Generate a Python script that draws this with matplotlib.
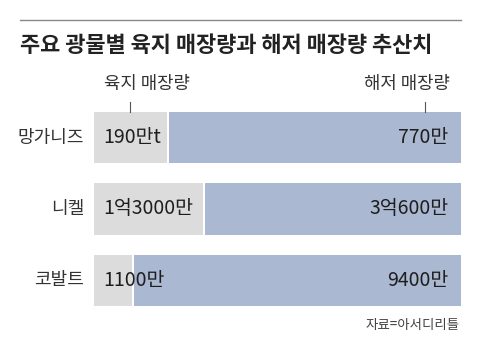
import numpy as np
import matplotlib
matplotlib.use('Agg')
from matplotlib import pyplot as plt
from matplotlib.lines import Line2D

plt.rcParams['font.family'] = ['Noto Sans CJK KR', 'DejaVu Sans']

# data (unit: 만 t)
minerals = ['망가니즈', '니켈', '코발트']
land = [190, 13000, 1100]
sea = [770, 30600, 9400]
land_labels = ['190만t', '1억3000만', '1100만']
sea_labels = ['770만', '3억600만', '9400만']

land_col = '#dcdcdc'
sea_col = '#aab8d1'
txt_col = '#1e1e1e'

land = np.array(land, dtype=float)
sea = np.array(sea, dtype=float)
total = land + sea
land_share = land / total
sea_share = sea / total

W, H = 480, 352
fig = plt.figure(figsize=(W / 100, H / 100), dpi=100)

# bar axes
ax = fig.add_axes([94 / W, 1 - 306 / H, 367 / W, 194 / H])
y = np.arange(len(minerals))
gap = 2 / 367
ax.barh(y, land_share, height=0.72, color=land_col)
ax.barh(y, sea_share - gap, left=land_share + gap, height=0.72, color=sea_col)
ax.set_xlim(0, 1)
ax.set_ylim(2.36, -0.36)
ax.axis('off')

for i in range(len(minerals)):
    ax.text(0.025, y[i], land_labels[i], ha='left', va='center', fontsize=14,
            fontweight='medium', color=txt_col)
    ax.text(0.965, y[i], sea_labels[i], ha='right', va='center', fontsize=14,
            fontweight='medium', color=txt_col)
    ax.text(-0.027, y[i], minerals[i], ha='right', va='center', fontsize=13,
            color='#333333')

# top rule and title
fig.add_artist(Line2D([20 / W, 461 / W], [1 - 20 / H, 1 - 20 / H], color='#888888', lw=1))
fig.text(20 / W, 1 - 45 / H, '주요 광물별 육지 매장량과 해저 매장량 추산치', ha='left',
         va='center', fontsize=15.8, fontweight='bold', color='#222222')

# legend labels with pointer ticks
fig.text(104 / W, 1 - 84 / H, '육지 매장량', ha='left', va='center', fontsize=12.8, color='#333333')
fig.text(450 / W, 1 - 84 / H, '해저 매장량', ha='right', va='center', fontsize=12.8, color='#333333')
for px in [130, 425]:
    fig.add_artist(Line2D([px / W, px / W], [1 - 102 / H, 1 - 112 / H], color='#555555', lw=0.8))

fig.text(460 / W, 1 - 325 / H, '자료=아서디리틀', ha='right', va='center', fontsize=9.7, color='#444444')

plt.savefig('out.png', dpi=100)
